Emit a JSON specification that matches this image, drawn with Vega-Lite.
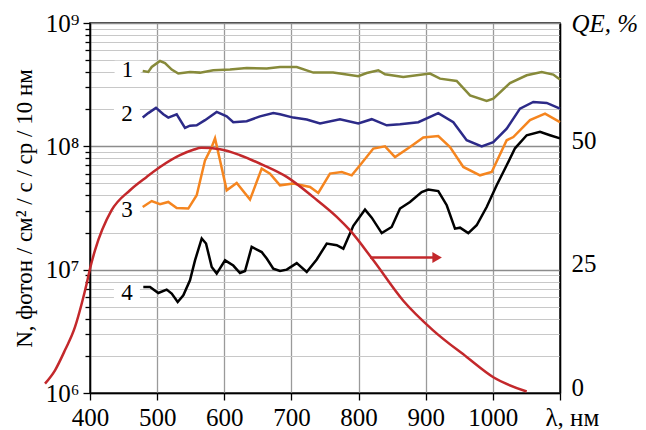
{
  "$schema": "https://vega.github.io/schema/vega-lite/v6.json",
  "width": 470,
  "height": 370,
  "autosize": {"type": "none"},
  "padding": {"left": 90, "top": 23, "right": 86, "bottom": 37},
  "background": "white",
  "config": {
    "view": {"stroke": "black", "strokeWidth": 1.5},
    "font": "Liberation Serif",
    "axis": {
      "labelFont": "Liberation Serif", "titleFont": "Liberation Serif",
      "labelColor": "black", "titleColor": "black",
      "domainColor": "black", "domainWidth": 1.5,
      "tickColor": "black", "tickWidth": 1.3,
      "labelFontSize": 25, "titleFontWeight": "normal",
      "labelOverlap": false, "labelFlush": false, "labelBound": false
    }
  },
  "datasets": {
    "curves": [
      {"s":"1","nm":478.5,"N":4.08e8},{"s":"1","nm":486.8,"N":4.01e8},{"s":"1","nm":491.9,"N":4.40e8},{"s":"1","nm":504.3,"N":4.92e8},{"s":"1","nm":511.7,"N":4.74e8},{"s":"1","nm":521.7,"N":4.19e8},{"s":"1","nm":531.5,"N":3.89e8},{"s":"1","nm":548.9,"N":4.01e8},{"s":"1","nm":563.8,"N":3.96e8},{"s":"1","nm":583.6,"N":4.14e8},{"s":"1","nm":608.5,"N":4.19e8},{"s":"1","nm":633.4,"N":4.32e8},{"s":"1","nm":663.2,"N":4.27e8},{"s":"1","nm":683,"N":4.40e8},{"s":"1","nm":707.9,"N":4.40e8},{"s":"1","nm":732.6,"N":3.96e8},{"s":"1","nm":762,"N":3.96e8},{"s":"1","nm":772.3,"N":3.89e8},{"s":"1","nm":799.6,"N":3.70e8},{"s":"1","nm":812.1,"N":3.93e8},{"s":"1","nm":829.4,"N":4.14e8},{"s":"1","nm":839.4,"N":3.84e8},{"s":"1","nm":866.6,"N":3.65e8},{"s":"1","nm":906.4,"N":3.89e8},{"s":"1","nm":921.3,"N":3.54e8},{"s":"1","nm":946.1,"N":3.39e8},{"s":"1","nm":966,"N":2.59e8},{"s":"1","nm":990.8,"N":2.33e8},{"s":"1","nm":1000.7,"N":2.44e8},{"s":"1","nm":1025.5,"N":3.26e8},{"s":"1","nm":1050.4,"N":3.77e8},{"s":"1","nm":1072.7,"N":4.01e8},{"s":"1","nm":1090,"N":3.82e8},{"s":"1","nm":1100,"N":3.48e8},
      {"s":"2","nm":478.5,"N":1.71e8},{"s":"2","nm":486.8,"N":1.86e8},{"s":"2","nm":498.3,"N":2.05e8},{"s":"2","nm":509.2,"N":1.82e8},{"s":"2","nm":516.6,"N":1.71e8},{"s":"2","nm":529.1,"N":1.82e8},{"s":"2","nm":541.5,"N":1.41e8},{"s":"2","nm":548.9,"N":1.47e8},{"s":"2","nm":558.9,"N":1.48e8},{"s":"2","nm":571.3,"N":1.63e8},{"s":"2","nm":588.7,"N":1.90e8},{"s":"2","nm":603.6,"N":1.75e8},{"s":"2","nm":613.4,"N":1.57e8},{"s":"2","nm":633.4,"N":1.60e8},{"s":"2","nm":653.2,"N":1.75e8},{"s":"2","nm":673,"N":1.86e8},{"s":"2","nm":683,"N":1.82e8},{"s":"2","nm":702.8,"N":1.71e8},{"s":"2","nm":722.8,"N":1.65e8},{"s":"2","nm":742.6,"N":1.53e8},{"s":"2","nm":772.3,"N":1.66e8},{"s":"2","nm":799.6,"N":1.53e8},{"s":"2","nm":819.6,"N":1.66e8},{"s":"2","nm":841.9,"N":1.48e8},{"s":"2","nm":861.7,"N":1.51e8},{"s":"2","nm":889,"N":1.57e8},{"s":"2","nm":918.7,"N":1.86e8},{"s":"2","nm":941.1,"N":1.57e8},{"s":"2","nm":961,"N":1.12e8},{"s":"2","nm":983.4,"N":1.00e8},{"s":"2","nm":1000.7,"N":1.08e8},{"s":"2","nm":1020.6,"N":1.39e8},{"s":"2","nm":1040.4,"N":2.02e8},{"s":"2","nm":1060.2,"N":2.29e8},{"s":"2","nm":1080.2,"N":2.25e8},{"s":"2","nm":1100,"N":2.02e8},
      {"s":"3","nm":478.5,"N":3.22e7},{"s":"3","nm":491.9,"N":3.60e7},{"s":"3","nm":504.3,"N":3.39e7},{"s":"3","nm":516.6,"N":3.54e7},{"s":"3","nm":529.1,"N":3.16e7},{"s":"3","nm":546.4,"N":3.13e7},{"s":"3","nm":558.9,"N":4.01e7},{"s":"3","nm":571.3,"N":7.70e7},{"s":"3","nm":581.3,"N":9.88e7},{"s":"3","nm":586.2,"N":1.16e8},{"s":"3","nm":593.6,"N":7.70e7},{"s":"3","nm":603.6,"N":4.40e7},{"s":"3","nm":618.5,"N":5.04e7},{"s":"3","nm":638.3,"N":3.70e7},{"s":"3","nm":655.7,"N":6.59e7},{"s":"3","nm":668.1,"N":6.01e7},{"s":"3","nm":683,"N":4.83e7},{"s":"3","nm":702.8,"N":4.99e7},{"s":"3","nm":727.7,"N":4.68e7},{"s":"3","nm":740,"N":4.19e7},{"s":"3","nm":757.4,"N":6.01e7},{"s":"3","nm":775,"N":6.19e7},{"s":"3","nm":789.8,"N":5.82e7},{"s":"3","nm":802.1,"N":7.02e7},{"s":"3","nm":822,"N":9.59e7},{"s":"3","nm":839.4,"N":1.00e8},{"s":"3","nm":854.3,"N":8.19e7},{"s":"3","nm":876.6,"N":9.88e7},{"s":"3","nm":896.4,"N":1.18e8},{"s":"3","nm":918.7,"N":1.21e8},{"s":"3","nm":936.2,"N":9.88e7},{"s":"3","nm":956,"N":6.80e7},{"s":"3","nm":980.9,"N":5.82e7},{"s":"3","nm":998.3,"N":6.19e7},{"s":"3","nm":1020.6,"N":1.12e8},{"s":"3","nm":1030.5,"N":1.19e8},{"s":"3","nm":1055.3,"N":1.63e8},{"s":"3","nm":1077.7,"N":1.84e8},{"s":"3","nm":1100,"N":1.57e8},
      {"s":"4","nm":479.4,"N":7.24e6},{"s":"4","nm":489.4,"N":7.24e6},{"s":"4","nm":501.7,"N":6.47e6},{"s":"4","nm":514.2,"N":6.89e6},{"s":"4","nm":521.7,"N":6.40e6},{"s":"4","nm":530.6,"N":5.47e6},{"s":"4","nm":539,"N":6.20e6},{"s":"4","nm":548.9,"N":8.20e6},{"s":"4","nm":556.4,"N":1.19e7},{"s":"4","nm":566.4,"N":1.79e7},{"s":"4","nm":572.8,"N":1.63e7},{"s":"4","nm":581.3,"N":1.05e7},{"s":"4","nm":588.7,"N":9.29e6},{"s":"4","nm":601.1,"N":1.19e7},{"s":"4","nm":613.4,"N":1.08e7},{"s":"4","nm":623.4,"N":9.40e6},{"s":"4","nm":630.9,"N":9.75e6},{"s":"4","nm":640.8,"N":1.53e7},{"s":"4","nm":655.7,"N":1.39e7},{"s":"4","nm":663.2,"N":1.23e7},{"s":"4","nm":673,"N":1.02e7},{"s":"4","nm":683,"N":9.75e6},{"s":"4","nm":693,"N":1.00e7},{"s":"4","nm":707.9,"N":1.13e7},{"s":"4","nm":722.8,"N":9.57e6},{"s":"4","nm":737.7,"N":1.21e7},{"s":"4","nm":752.6,"N":1.63e7},{"s":"4","nm":767.5,"N":1.58e7},{"s":"4","nm":777.3,"N":1.48e7},{"s":"4","nm":792.2,"N":2.27e7},{"s":"4","nm":809.6,"N":3.07e7},{"s":"4","nm":819.6,"N":2.64e7},{"s":"4","nm":834.5,"N":1.98e7},{"s":"4","nm":849.3,"N":2.22e7},{"s":"4","nm":861.7,"N":3.13e7},{"s":"4","nm":876.6,"N":3.54e7},{"s":"4","nm":894,"N":4.26e7},{"s":"4","nm":903.8,"N":4.46e7},{"s":"4","nm":918.7,"N":4.34e7},{"s":"4","nm":931.3,"N":3.33e7},{"s":"4","nm":943.6,"N":2.15e7},{"s":"4","nm":951.1,"N":2.19e7},{"s":"4","nm":963.4,"N":1.98e7},{"s":"4","nm":975.9,"N":2.29e7},{"s":"4","nm":990.8,"N":3.22e7},{"s":"4","nm":1005.7,"N":4.83e7},{"s":"4","nm":1020.6,"N":7.02e7},{"s":"4","nm":1033,"N":9.64e7},{"s":"4","nm":1050.4,"N":1.23e8},{"s":"4","nm":1070.2,"N":1.31e8},{"s":"4","nm":1085.1,"N":1.23e8},{"s":"4","nm":1100,"N":1.16e8}
    ],
    "labels": [
      {"lab":"1","nm":456,"N":4.14e8},
      {"lab":"2","nm":455,"N":1.84e8},
      {"lab":"3","nm":455,"N":3.03e7},
      {"lab":"4","nm":455,"N":6.52e6}
    ],
    "qe": [
      {"nm":333,"QE":1.9},{"nm":347.9,"QE":4.6},{"nm":362.8,"QE":8.7},{"nm":377.7,"QE":13.4},{"nm":387.6,"QE":18.1},{"nm":395.1,"QE":22.2},{"nm":400,"QE":25.2},{"nm":407.4,"QE":28.9},{"nm":432,"QE":37.0},{"nm":459.6,"QE":41.1},{"nm":484.4,"QE":43.8},{"nm":504.3,"QE":45.8},{"nm":534,"QE":48.2},{"nm":553.9,"QE":49.3},{"nm":566,"QE":49.7},{"nm":593.6,"QE":49.4},{"nm":623.4,"QE":48.2},{"nm":658,"QE":46.2},{"nm":693,"QE":43.8},{"nm":732.6,"QE":39.7},{"nm":767.5,"QE":35.7},{"nm":787,"QE":33.0},{"nm":822,"QE":26.9},{"nm":866.6,"QE":18.7},{"nm":911,"QE":12.7},{"nm":961,"QE":7.3},{"nm":1000.7,"QE":3.2},{"nm":1050.4,"QE":0.3}
    ],
    "arrow": [{"nm":817,"nm2":912,"QE":27.45}],
    "head": [{"nm":917,"QE":27.45}]
  },
  "layer": [
    {
      "layer": [
        {
          "data": {"name": "labels"},
          "mark": {"type": "point", "shape": "M-1.3,-0.95L1.3,-0.95L1.3,0.95L-1.3,0.95Z", "filled": true, "color": "white", "opacity": 1, "size": 400},
          "encoding": {
            "x": {"field": "nm", "type": "quantitative"},
            "y": {"field": "N", "type": "quantitative"}
          }
        },
        {
          "data": {"name": "curves"},
          "mark": {"type": "line", "strokeWidth": 2.5},
          "encoding": {
            "x": {
              "field": "nm", "type": "quantitative",
              "scale": {"domain": [400, 1100], "nice": false, "zero": false},
              "axis": {
                "values": [400,450,500,550,600,650,700,750,800,850,900,950,1000,1050,1100],
                "format": "d",
                "labelExpr": "datum.value % 100 == 0 ? (datum.value == 1100 ? 'λ, нм' : datum.label) : ''",
                "labelAlign": {"condition": {"test": "datum.value == 1100", "value": "left"}, "value": "center"},
                "labelOffset": {"condition": {"test": "datum.value == 1100", "value": -15}, "value": 0},
                "tickSize": {"condition": {"test": "datum.value % 100 == 0", "value": 7}, "value": 5},
                "labelPadding": 5,
                "grid": true,
                "gridColor": {"condition": {"test": "datum.value % 100 == 0", "value": "#9a9a9a"}, "value": "transparent"},
                "gridWidth": 1.3,
                "title": null
              }
            },
            "y": {
              "field": "N", "type": "quantitative",
              "scale": {"type": "log", "domain": [1000000, 1000000000], "nice": false},
              "axis": {
                "values": [1000000,2000000,3000000,4000000,5000000,6000000,7000000,8000000,9000000,10000000,20000000,30000000,40000000,50000000,60000000,70000000,80000000,90000000,100000000,200000000,300000000,400000000,500000000,600000000,700000000,800000000,900000000,1000000000],
                "labelExpr": "datum.value == 1e6 ? '10⁶' : datum.value == 1e7 ? '10⁷' : datum.value == 1e8 ? '10⁸' : datum.value == 1e9 ? '10⁹' : ''",
                "tickSize": {"condition": {"test": "datum.value == 1e6 || datum.value == 1e7 || datum.value == 1e8 || datum.value == 1e9", "value": 7}, "value": 5},
                "labelPadding": 4,
                "grid": true,
                "gridColor": {"condition": {"test": "datum.value == 1e6 || datum.value == 1e7 || datum.value == 1e8 || datum.value == 1e9", "value": "#8c8c8c"}, "value": "#c8c8c8"},
                "gridWidth": {"condition": {"test": "datum.value == 1e6 || datum.value == 1e7 || datum.value == 1e8 || datum.value == 1e9", "value": 1.4}, "value": 1},
                "title": "N, фотон / см² / с / ср / 10 нм",
                "titleFontSize": 23,
                "titlePadding": 9
              }
            },
            "color": {
              "field": "s", "type": "nominal",
              "scale": {"domain": ["1","2","3","4"], "range": ["#878a3a", "#2c2a88", "#f5851f", "#000000"]},
              "legend": null
            }
          }
        },
        {
          "data": {"name": "labels"},
          "mark": {"type": "text", "font": "Liberation Serif", "fontSize": 23, "color": "black", "align": "center", "baseline": "middle"},
          "encoding": {
            "x": {"field": "nm", "type": "quantitative"},
            "y": {"field": "N", "type": "quantitative"},
            "text": {"field": "lab"}
          }
        }
      ]
    },
    {
      "layer": [
        {
          "data": {"name": "qe"},
          "mark": {"type": "line", "color": "#c3282b", "strokeWidth": 2.5, "interpolate": "monotone"},
          "encoding": {
            "x": {"field": "nm", "type": "quantitative"},
            "y": {
              "field": "QE", "type": "quantitative",
              "scale": {"domain": [0, 75], "nice": false},
              "axis": {
                "orient": "right",
                "values": [0, 25, 50, 75],
                "labelExpr": "datum.value == 75 ? 'QE, %' : datum.label",
                "labelFontStyle": {"condition": {"test": "datum.value == 75", "value": "italic"}, "value": "normal"},
                "labelOffset": {"condition": {"test": "datum.value == 75", "value": 0}, "value": -6},
                "tickSize": 0,
                "labelPadding": 11,
                "grid": false,
                "title": null
              }
            }
          }
        },
        {
          "data": {"name": "arrow"},
          "mark": {"type": "rule", "color": "#c3282b", "strokeWidth": 2.5},
          "encoding": {
            "x": {"field": "nm", "type": "quantitative"},
            "x2": {"field": "nm2"},
            "y": {"field": "QE", "type": "quantitative"}
          }
        },
        {
          "data": {"name": "head"},
          "mark": {"type": "point", "shape": "triangle-right", "filled": true, "color": "#c3282b", "opacity": 1, "size": 120},
          "encoding": {
            "x": {"field": "nm", "type": "quantitative"},
            "y": {"field": "QE", "type": "quantitative"}
          }
        }
      ]
    }
  ],
  "resolve": {"scale": {"y": "independent"}, "axis": {"y": "independent"}}
}
